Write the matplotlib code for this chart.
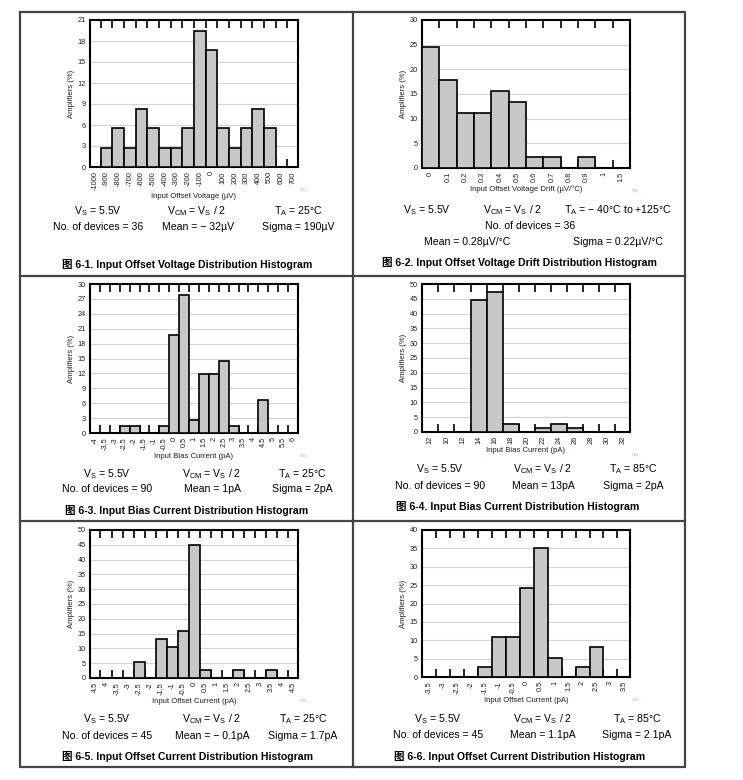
import matplotlib
matplotlib.use("Agg")
import matplotlib.pyplot as plt
import numpy as np

plt.rcParams['font.family'] = ['Liberation Sans', 'Noto Sans CJK SC', 'DejaVu Sans']
plt.rcParams['mathtext.fontset'] = 'custom'
plt.rcParams['mathtext.rm'] = 'Liberation Sans'
plt.rcParams['mathtext.it'] = 'Liberation Sans'

W, H = 743, 780

# ---- data (percent of amplifiers per bin) ----
p1_labels = ['-1000', '-900', '-800', '-700', '-600', '-500', '-400', '-300', '-200',
             '-100', '0', '100', '200', '300', '400', '500', '600', '700']
p1_vals = [0, 2.78, 5.56, 2.78, 8.33, 5.56, 2.78, 2.78, 5.56,
           19.44, 16.67, 5.56, 2.78, 5.56, 8.33, 5.56, 0, 0]

p2_labels = ['0', '0.1', '0.2', '0.3', '0.4', '0.5', '0.6', '0.7', '0.8', '0.9', '1', '1.5']
p2_vals = [24.44, 17.78, 11.11, 11.11, 15.56, 13.33, 2.22, 2.22, 0, 2.22, 0, 0]

p3_labels = ['-4', '-3.5', '-3', '-2.5', '-2', '-1.5', '-1', '-0.5', '0', '0.5', '1',
             '1.5', '2', '2.5', '3', '3.5', '4', '4.5', '5', '5.5', '6']
p3_vals = [0, 0, 0, 1.4, 1.4, 0, 0, 1.4, 19.7, 27.7, 2.7,
           11.9, 11.9, 14.5, 1.4, 0, 0, 6.6, 0, 0, 0]

p4_labels = ['12', '10', '12', '14', '16', '18', '20', '22', '24', '26', '28', '30', '32']
p4_vals = [0, 0, 0, 44.6, 47.4, 2.8, 0, 1.4, 2.8, 1.4, 0, 0, 0]

p5_labels = ['4.5', '4', '-3.5', '-3', '-2.5', '-2', '-1.5', '-1', '-0.5', '0',
             '0.5', '1', '1.5', '2', '2.5', '3', '3.5', '4', '4.5']
p5_vals = [0, 0, 0, 0, 5.4, 0, 13.2, 10.5, 15.8, 44.9,
           2.8, 0, 0, 2.8, 0, 0, 2.8, 0, 0]

p6_labels = ['-3.5', '-3', '-2.5', '-2', '-1.5', '-1', '-0.5', '0', '0.5', '1',
             '1.5', '2', '2.5', '3', '3.5']
p6_vals = [0, 0, 0, 0, 2.6, 10.8, 10.8, 24.3, 35.2, 5.3, 0, 2.6, 8.1, 0, 0]

xlabels = ['Input Offset Voltage (µV)', 'Input Offset Voltage Drift (µV/°C)',
           'Input Bias Current (pA)', 'Input Bias Current (pA)',
           'Input Offset Current (pA)', 'Input Offset Current (pA)']
ytops = [21, 30, 30, 50, 50, 40]
ysteps = [3, 5, 3, 5, 5, 5]
tags = ['H01_', 'H02_', 'H03_', 'H04_', 'H05_', 'H06_']

# axes boxes in pixels: x0, y0, x1, y1 and x limits
boxes = [(90, 20, 298, 167), (422, 20, 630, 168),
         (90, 284, 298, 433), (422, 284, 630, 432),
         (90, 530, 298, 678), (422, 530, 630, 677)]
xlims = [(-0.43, 17.43), (-0.5, 11.5), (-0.5, 20.5),
         (-0.52, 12.41), (-0.45, 18.4), (-0.5, 14.4)]

panels = [(p1_labels, p1_vals), (p2_labels, p2_vals), (p3_labels, p3_vals),
          (p4_labels, p4_vals), (p5_labels, p5_vals), (p6_labels, p6_vals)]

txtc = '#1c1c3c'

fig = plt.figure(figsize=(W / 100, H / 100), dpi=100)

# overlay for borders and captions
ov = fig.add_axes([0, 0, 1, 1])
ov.set_xlim(0, W)
ov.set_ylim(H, 0)
ov.axis('off')
bc = '#444444'
ov.plot([20, 685, 685, 20, 20], [12, 12, 767, 767, 12], color=bc, lw=1.6)
ov.plot([20, 685], [276, 276], color=bc, lw=1.6)
ov.plot([20, 685], [521, 521], color=bc, lw=1.6)
ov.plot([353, 353], [12, 767], color=bc, lw=1.6)

for i, ((labels, vals), box) in enumerate(zip(panels, boxes)):
    x0, y0, x1, y1 = box
    ax = fig.add_axes([x0 / W, 1 - y1 / H, (x1 - x0) / W, (y1 - y0) / H])
    n = len(labels)
    x = np.arange(n)
    ax.bar(x, vals, width=1.0, color='#c8c8c8', edgecolor='black', linewidth=1.2, zorder=3)
    ax.set_xlim(*xlims[i])
    ax.set_ylim(0, ytops[i])
    ax.set_yticks(np.arange(0, ytops[i] + 0.1, ysteps[i]))
    ax.yaxis.grid(True, color='#d4d4d4', lw=0.8, zorder=0)
    ax.set_axisbelow(True)
    ax.set_xticks(x)
    ax.set_xticklabels(labels, rotation=90)
    ax.set_xticks(np.arange(0.5, n - 1, 1), minor=True)
    ax.tick_params(axis='x', which='major', length=0, labelsize=5.3, pad=3, colors=txtc)
    ax.tick_params(axis='x', which='minor', direction='in', top=True, bottom=True,
                   length=5.5, width=1.2, color='black')
    ax.tick_params(axis='y', length=0, labelsize=5.3, pad=3, colors=txtc)
    for s in ax.spines.values():
        s.set_linewidth(1.5)
    ax.set_xlabel(xlabels[i], fontsize=5.6, color=txtc, labelpad=2)
    ax.set_ylabel('Amplifiers (%)', fontsize=5.6, color=txtc, labelpad=2)
    ax.text(1.01, -0.14, tags[i], transform=ax.transAxes, fontsize=3, color='#b0b0b0',
            ha='left', va='top')

fs = 7.6
def t(x, y, s):
    ov.text(x, y, s, ha='center', va='center', fontsize=fs, color='black')

def cap(x, y, s):
    ov.text(x, y, s, ha='center', va='center', fontsize=7.6, fontweight='bold', color='black')

VS = r'V$_\mathrm{S}$ = 5.5V'
VCM = r'V$_\mathrm{CM}$ = V$_\mathrm{S}$ / 2'

# panel 1
t(98, 211, VS); t(197, 211, VCM); t(298, 211, r'T$_\mathrm{A}$ = 25°C')
t(98, 227, 'No. of devices = 36'); t(198, 227, 'Mean = − 32µV'); t(298, 227, 'Sigma = 190µV')
cap(187, 264, '图 6-1. Input Offset Voltage Distribution Histogram')
# panel 2
t(427, 210, VS); t(513, 210, VCM); t(618, 210, r'T$_\mathrm{A}$ = − 40°C to +125°C')
t(530, 226, 'No. of devices = 36')
t(467, 242, 'Mean = 0.28µV/°C'); t(618, 242, 'Sigma = 0.22µV/°C')
cap(519, 263, '图 6-2. Input Offset Voltage Drift Distribution Histogram')
# panel 3
t(107, 474, VS); t(212, 474, VCM); t(302, 474, r'T$_\mathrm{A}$ = 25°C')
t(107, 489, 'No. of devices = 90'); t(212, 489, 'Mean = 1pA'); t(302, 489, 'Sigma = 2pA')
cap(187, 510, '图 6-3. Input Bias Current Distribution Histogram')
# panel 4
t(440, 469, VS); t(543, 469, VCM); t(633, 469, r'T$_\mathrm{A}$ = 85°C')
t(440, 486, 'No. of devices = 90'); t(543, 486, 'Mean = 13pA'); t(633, 486, 'Sigma = 2pA')
cap(518, 507, '图 6-4. Input Bias Current Distribution Histogram')
# panel 5
t(107, 719, VS); t(212, 719, VCM); t(303, 719, r'T$_\mathrm{A}$ = 25°C')
t(107, 736, 'No. of devices = 45'); t(212, 736, 'Mean = − 0.1pA'); t(303, 736, 'Sigma = 1.7pA')
cap(187, 757, '图 6-5. Input Offset Current Distribution Histogram')
# panel 6
t(438, 719, VS); t(543, 719, VCM); t(637, 719, r'T$_\mathrm{A}$ = 85°C')
t(438, 735, 'No. of devices = 45'); t(543, 735, 'Mean = 1.1pA'); t(637, 735, 'Sigma = 2.1pA')
cap(520, 757, '图 6-6. Input Offset Current Distribution Histogram')

fig.savefig('out.png', dpi=100)
